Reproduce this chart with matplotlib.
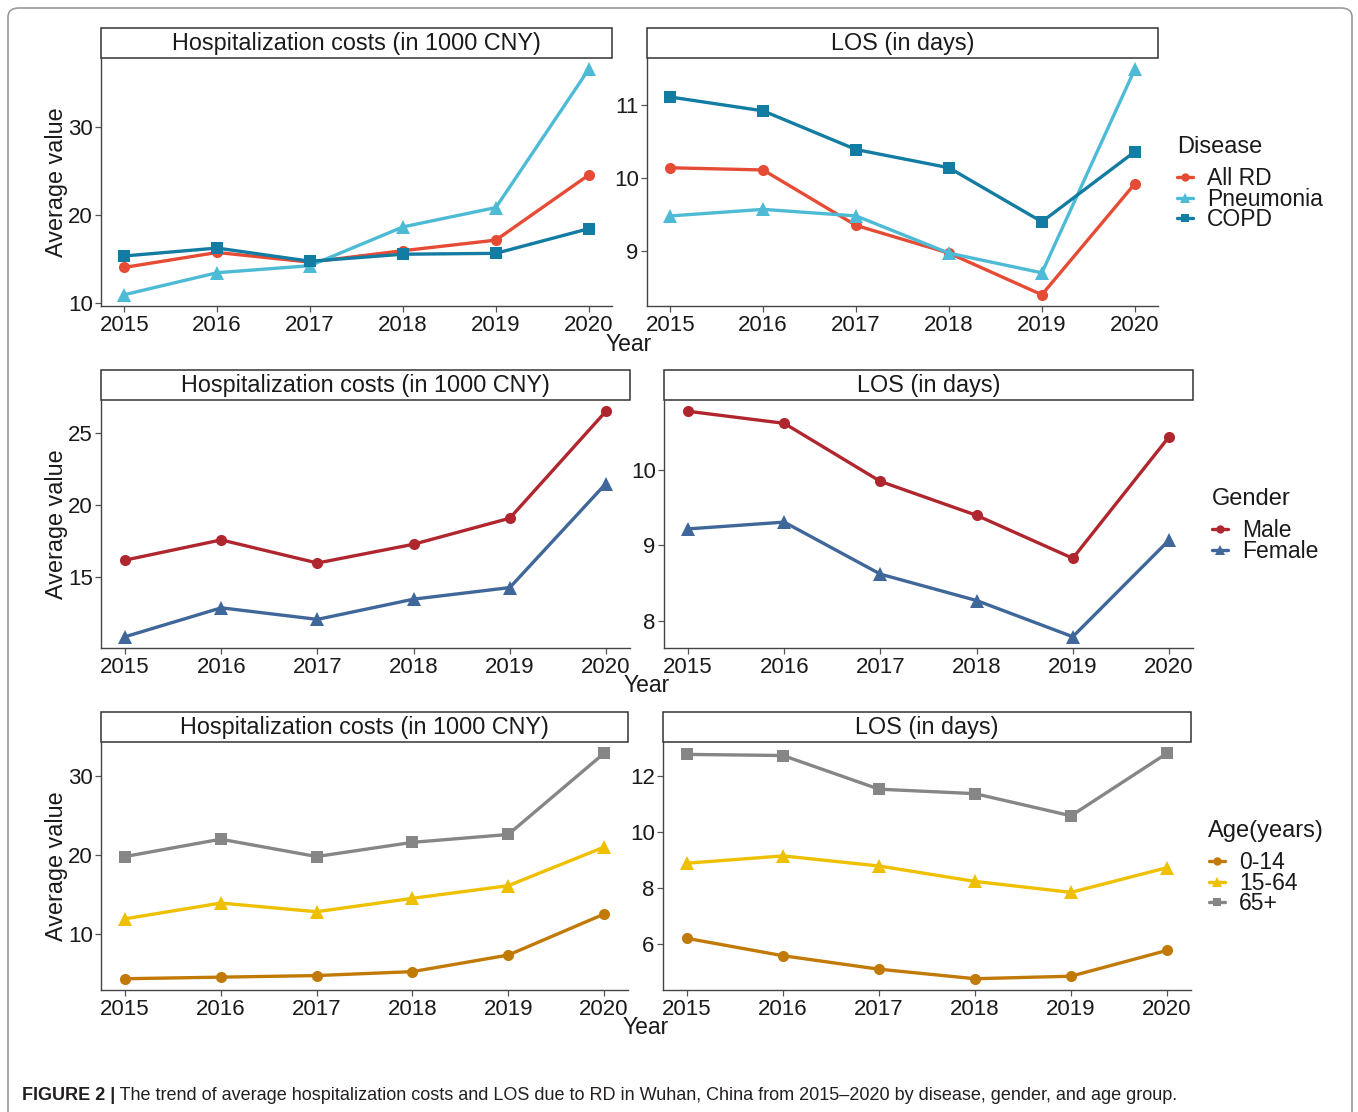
import numpy as np
import matplotlib
matplotlib.use("Agg")
import matplotlib.pyplot as plt
from matplotlib.patches import Rectangle, FancyBboxPatch

plt.rcParams["font.family"] = ["Liberation Sans", "DejaVu Sans"]

years = [2015, 2016, 2017, 2018, 2019, 2020]

# row 1: by disease
disease_labels = ["All RD", "Pneumonia", "COPD"]
cost_all_rd    = [14.0, 15.7, 14.6, 15.9, 17.1, 24.5]
cost_pneumonia = [10.9, 13.4, 14.2, 18.6, 20.8, 36.5]
cost_copd      = [15.3, 16.2, 14.7, 15.5, 15.6, 18.4]
los_all_rd     = [10.14, 10.11, 9.35, 8.97, 8.40, 9.92]
los_pneumonia  = [9.48, 9.57, 9.48, 8.97, 8.70, 11.49]
los_copd       = [11.11, 10.92, 10.39, 10.14, 9.40, 10.36]

# row 2: by gender
gender_labels = ["Male", "Female"]
cost_male   = [16.2, 17.6, 16.0, 17.3, 19.1, 26.5]
cost_female = [10.9, 12.9, 12.1, 13.5, 14.3, 21.5]
los_male    = [10.78, 10.62, 9.85, 9.40, 8.83, 10.44]
los_female  = [9.22, 9.31, 8.62, 8.27, 7.79, 9.07]

# row 3: by age group
age_labels = ["0-14", "15-64", "65+"]
cost_0_14  = [4.3, 4.5, 4.7, 5.2, 7.3, 12.5]
cost_15_64 = [11.9, 13.9, 12.8, 14.5, 16.1, 21.0]
cost_65    = [19.8, 22.0, 19.8, 21.6, 22.6, 32.9]
los_0_14   = [6.21, 5.59, 5.11, 4.77, 4.86, 5.78]
los_15_64  = [8.89, 9.15, 8.79, 8.24, 7.85, 8.73]
los_65     = [12.77, 12.73, 11.53, 11.37, 10.58, 12.81]

cost_title = "Hospitalization costs (in 1000 CNY)"
los_title  = "LOS (in days)"
caption = ("The trend of average hospitalization costs and LOS due to RD in Wuhan, "
           "China from 2015\u20132020 by disease, gender, and age group.")

W, H = 1358, 1112
fig = plt.figure(figsize=(W / 100, H / 100), dpi=100)
TXT = "#1a1a1a"

def px_axes(x0, y0, x1, y1):
    # pixel box (top-left origin) -> figure axes
    return fig.add_axes([x0 / W, 1 - y1 / H, (x1 - x0) / W, (y1 - y0) / H])

def style_panel(ax, series, title, yticks):
    allv = np.concatenate([np.asarray(s[0]) for s in series])
    lo, hi = allv.min(), allv.max()
    pad = (hi - lo) * 0.05
    ax.set_ylim(lo - pad, hi + pad)
    ax.set_xlim(2015 - 0.25, 2020 + 0.25)
    ax.set_xticks(years)
    ax.set_yticks(yticks)
    for side in ["top", "right"]:
        ax.spines[side].set_visible(False)
    for side in ["left", "bottom"]:
        ax.spines[side].set_color("#444444")
        ax.spines[side].set_linewidth(1.0)
    ax.tick_params(axis="both", labelsize=16, length=4, width=0.9, color="#555555",
                   labelcolor=TXT, pad=2.5)
    ax.tick_params(axis="y", pad=2)
    sh = 30 / 248
    ax.add_patch(Rectangle((0, 1), 1, sh, transform=ax.transAxes, clip_on=False,
                           facecolor="white", edgecolor="#333333", linewidth=1.1))
    ax.text(0.5, 1 + sh / 2 - 0.004, title, transform=ax.transAxes, ha="center",
            va="center", fontsize=16.8, color=TXT)
    handles = []
    for vals, color, marker, ms in series:
        h, = ax.plot(years, vals, color=color, linewidth=2.4, marker=marker,
                     markersize=ms, markeredgewidth=0, solid_capstyle="round")
        handles.append(h)
    return handles

c_allrd, c_pneu, c_copd = "#E64B35", "#4DBBD5", "#137CA2"
c_male, c_female = "#B0262E", "#3F6799"
c_child, c_adult, c_old = "#C17A06", "#EFC000", "#868686"

rows = [
    dict(top=58, bottom=306, left=(101, 612), right=(647, 1158),
         cost=[(cost_all_rd, c_allrd, "o", 8), (cost_pneumonia, c_pneu, "^", 10), (cost_copd, c_copd, "s", 8)],
         los=[(los_all_rd, c_allrd, "o", 8), (los_pneumonia, c_pneu, "^", 10), (los_copd, c_copd, "s", 8)],
         cyt=[10, 20, 30], lyt=[9, 10, 11],
         labels=disease_labels, ltitle="Disease", title_at=(1177, 147), keys_at=(1177, 167),
         year=(629, 344)),
    dict(top=400, bottom=648, left=(101, 630), right=(664, 1193),
         cost=[(cost_male, c_male, "o", 8), (cost_female, c_female, "^", 10)],
         los=[(los_male, c_male, "o", 8), (los_female, c_female, "^", 10)],
         cyt=[15, 20, 25], lyt=[8, 9, 10],
         labels=gender_labels, ltitle="Gender", title_at=(1212, 499), keys_at=(1212, 519),
         year=(647, 686)),
    dict(top=742, bottom=990, left=(101, 628), right=(663, 1191),
         cost=[(cost_0_14, c_child, "o", 8), (cost_15_64, c_adult, "^", 10), (cost_65, c_old, "s", 8)],
         los=[(los_0_14, c_child, "o", 8), (los_15_64, c_adult, "^", 10), (los_65, c_old, "s", 8)],
         cyt=[10, 20, 30], lyt=[6, 8, 10, 12],
         labels=age_labels, ltitle="Age(years)", title_at=(1208, 831), keys_at=(1209, 851),
         year=(646, 1028)),
]

for r in rows:
    axl = px_axes(r["left"][0], r["top"], r["left"][1], r["bottom"])
    axr = px_axes(r["right"][0], r["top"], r["right"][1], r["bottom"])
    style_panel(axl, r["cost"], cost_title, r["cyt"])
    hs = style_panel(axr, r["los"], los_title, r["lyt"])
    axl.set_ylabel("Average value", fontsize=16.8, color=TXT, labelpad=0)
    fig.text(r["year"][0] / W, 1 - r["year"][1] / H, "Year", ha="center", va="center",
             fontsize=16.5, color=TXT)
    fig.text(r["title_at"][0] / W, 1 - r["title_at"][1] / H, r["ltitle"], ha="left",
             va="center", fontsize=17, color=TXT)
    leg = fig.legend(hs, r["labels"], loc="upper left",
                     bbox_to_anchor=(r["keys_at"][0] / W, 1 - r["keys_at"][1] / H),
                     frameon=False, fontsize=16.5, handlelength=0.7,
                     handletextpad=0.6, labelspacing=-0.1, borderpad=0, borderaxespad=0,
                     markerscale=0.75)
    for t in leg.get_texts():
        t.set_color(TXT)

# outer frame of the figure panel
fig.patches.append(FancyBboxPatch((8 / W, -0.05), (1352 - 8) / W, 1 - 8 / H + 0.05,
                                  boxstyle="round,pad=0,rounding_size=0.008",
                                  transform=fig.transFigure, facecolor="none",
                                  edgecolor="#9a9a9a", linewidth=1.2))

cap = fig.text(22 / W, 1 - 1096 / H, "FIGURE 2 |", fontsize=13, fontweight="bold",
               ha="left", va="center", color="#231f20")
fig.add_artist(plt.Annotation(" " + caption, xy=(1, 0), xycoords=cap, xytext=(0, 0),
                              textcoords="offset points", ha="left", va="bottom",
                              fontsize=13, color="#231f20"))

fig.savefig("out.png", dpi=100)
